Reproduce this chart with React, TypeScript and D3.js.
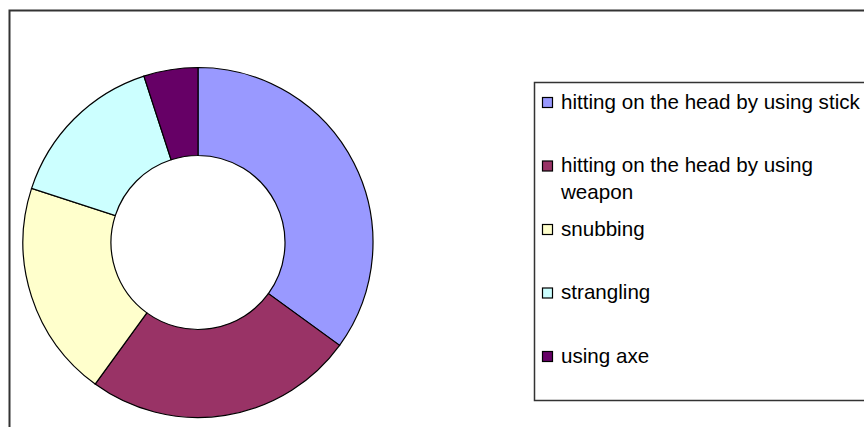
import { useEffect, useRef } from "react";
import * as d3 from "d3";

const categories = [
  "hitting on the head by using stick",
  "hitting on the head by using weapon",
  "snubbing",
  "strangling",
  "using axe",
];
const values = [35, 25, 20, 15, 5];
const colors = ["#9999FF", "#993366", "#FFFFCC", "#CCFFFF", "#660066"];
// legend labels split into lines the way the original wraps them
const legendLines = [
  ["hitting on the head by using stick"],
  ["hitting on the head by using", "weapon"],
  ["snubbing"],
  ["strangling"],
  ["using axe"],
];

export default function App() {
  const svgRef = useRef<SVGSVGElement | null>(null);

  useEffect(() => {
    if (!svgRef.current) return;
    const svg = d3.select(svgRef.current);
    svg.selectAll("*").remove();

    const width = 864;
    const height = 427;
    svg.attr("width", width).attr("height", height);

    // outer chart frame
    svg
      .append("rect")
      .attr("x", 9.5)
      .attr("y", 10.5)
      .attr("width", 900)
      .attr("height", 500)
      .attr("fill", "#fff")
      .attr("stroke", "#333")
      .attr("stroke-width", 2);

    const cx = 198;
    const cy = 242.5;
    const outer = 175;
    const inner = 87;

    const pie = d3
      .pie<number>()
      .sort(null)
      .value((d) => d);
    const arc = d3
      .arc<d3.PieArcDatum<number>>()
      .innerRadius(inner)
      .outerRadius(outer);

    const g = svg.append("g").attr("transform", `translate(${cx},${cy})`);
    g.selectAll("path.slice")
      .data(pie(values))
      .join("path")
      .attr("class", "slice")
      .attr("d", arc)
      .attr("fill", (_, i) => colors[i])
      .attr("stroke", "#000")
      .attr("stroke-width", 1.2);

    // legend
    const lx = 534.5;
    const ly = 82.5;
    svg
      .append("rect")
      .attr("x", lx)
      .attr("y", ly)
      .attr("width", 400)
      .attr("height", 318)
      .attr("fill", "#fff")
      .attr("stroke", "#333")
      .attr("stroke-width", 1.5);

    const rowY = d3
      .scaleLinear()
      .domain([0, categories.length - 1])
      .range([103, 357]);

    const items = svg
      .selectAll("g.legend-item")
      .data(categories)
      .join("g")
      .attr("class", "legend-item")
      .attr("transform", (_, i) => `translate(0,${rowY(i)})`);

    items
      .append("rect")
      .attr("x", 542.5)
      .attr("y", -5.5)
      .attr("width", 10)
      .attr("height", 10)
      .attr("fill", (_, i) => colors[i])
      .attr("stroke", "#000")
      .attr("stroke-width", 1.2);

    items
      .append("text")
      .attr("x", 561)
      .attr("y", 5.5)
      .attr("font-family", "'Liberation Sans', Arial, sans-serif")
      .attr("font-size", 20.6)
      .attr("fill", "#000")
      .selectAll("tspan")
      .data((_, i) => legendLines[i])
      .join("tspan")
      .attr("x", 561)
      .attr("dy", (_, j) => (j === 0 ? 0 : 26.5))
      .text((d) => d);
  }, []);

  return (
    <div style={{ position: "absolute", left: 0, top: 0 }}>
      <svg ref={svgRef} style={{ display: "block" }} />
    </div>
  );
}
